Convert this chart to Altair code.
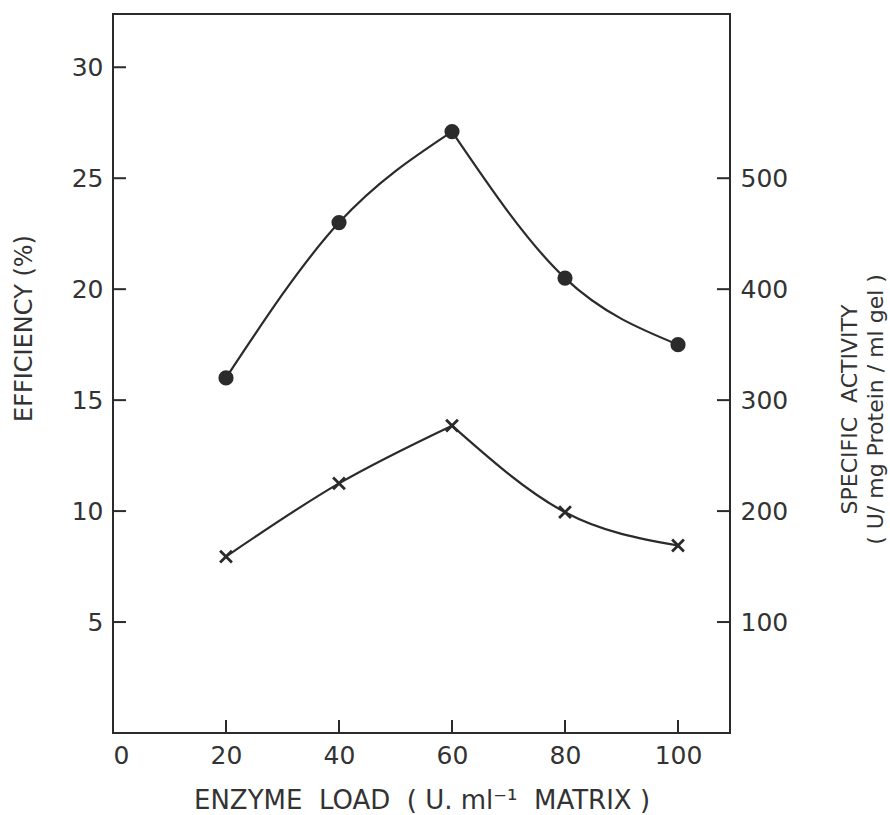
import altair as alt
import pandas as pd

# ---- data ----
loads = [20, 40, 60, 80, 100]
efficiency = [16.0, 23.0, 27.1, 20.5, 17.5]          # filled circles, left axis (%)
specific_activity = [159, 225, 277, 199, 169]         # crosses, right axis
x_tick_values = [0, 20, 40, 60, 80, 100]
x_inner_ticks = [20, 40, 60, 80, 100]
left_tick_values = [5, 10, 15, 20, 25, 30]
right_tick_values = [100, 200, 300, 400, 500]

W, H = 617, 719
INK = "#2b2b2b"
FONT = "DejaVu Sans"
NB = "\u00a0"

x_scale = alt.Scale(domain=[0, 109.2], nice=False, zero=False)
left_scale = alt.Scale(domain=[0, 32.4], nice=False, zero=False)
right_scale = alt.Scale(domain=[0, 648], nice=False, zero=False)


def split_at_peak(values):
    peak = loads[values.index(max(values))]
    rows = []
    for x, v in zip(loads, values):
        if x <= peak:
            rows.append({"load": x, "value": v, "seg": "rise"})
        if x >= peak:
            rows.append({"load": x, "value": v, "seg": "fall"})
    return pd.DataFrame(rows)


eff_df = pd.DataFrame({"load": loads, "value": efficiency})
sa_df = pd.DataFrame({"load": loads, "value": specific_activity})
eff_seg = split_at_peak(efficiency)
sa_seg = split_at_peak(specific_activity)

x_axis = alt.Axis(
    values=x_tick_values, ticks=False, domain=False, grid=False,
    labelFont=FONT, labelFontSize=25, labelColor="#333", labelPadding=10,
    title=f"ENZYME{NB}{NB}LOAD{NB}{NB}({NB}U.{NB}ml\u207b\u00b9{NB}{NB}MATRIX{NB})",
    titleFont=FONT, titleFontSize=26, titleFontWeight="normal", titleColor="#333",
    titleY=75, titleBaseline="alphabetic",
)
left_axis = alt.Axis(
    values=left_tick_values, ticks=False, domain=False, grid=False,
    labelFont=FONT, labelFontSize=25, labelColor="#333", labelPadding=10,
    title="EFFICIENCY (%)",
    titleFont=FONT, titleFontSize=24, titleFontWeight="normal", titleColor="#333",
    titleX=-82, titleY=314, titleBaseline="alphabetic", titleAngle=270,
)
right_axis = alt.Axis(
    orient="right",
    values=right_tick_values, ticks=False, domain=False, grid=False,
    labelFont=FONT, labelFontSize=25, labelColor="#333", labelPadding=10,
    title=[f"SPECIFIC{NB}{NB}ACTIVITY", f"({NB}U/{NB}mg{NB}Protein{NB}/{NB}ml{NB}gel{NB})"],
    titleFont=FONT, titleFontSize=22, titleFontWeight="normal", titleColor="#333",
    titleLineHeight=26,
    titleX=126, titleY=395, titleBaseline="alphabetic", titleAngle=270,
    titleAlign="center",
)

X = alt.X("load:Q", scale=x_scale, axis=x_axis)

eff_line = alt.Chart(eff_seg).mark_line(
    interpolate="monotone", color=INK, strokeWidth=2.2
).encode(
    x=X,
    y=alt.Y("value:Q", scale=left_scale, axis=None),
    detail="seg:N",
)
eff_pts = alt.Chart(eff_df).mark_point(
    shape="circle", filled=True, size=230, color=INK, opacity=1
).encode(
    x=X,
    y=alt.Y("value:Q", scale=left_scale, axis=left_axis),
)

sa_line = alt.Chart(sa_seg).mark_line(
    interpolate="monotone", color=INK, strokeWidth=2.2
).encode(
    x=X,
    y=alt.Y("value:Q", scale=right_scale, axis=None),
    detail="seg:N",
)
sa_pts = alt.Chart(sa_df).mark_point(
    shape="M-1,-1L1,1M-1,1L1,-1", filled=False, size=140, color=INK,
    strokeWidth=2.8, opacity=1
).encode(
    x=X,
    y=alt.Y("value:Q", scale=right_scale, axis=right_axis),
)

# inward tick marks
TL = 13
xt = alt.Chart(pd.DataFrame({"load": x_inner_ticks})).mark_rule(
    color=INK, strokeWidth=2
).encode(
    x=X,
    y=alt.value(H), y2=alt.value(H - TL),
)
lt = alt.Chart(pd.DataFrame({"v": left_tick_values})).mark_rule(
    color=INK, strokeWidth=2
).encode(
    y=alt.Y("v:Q", scale=left_scale, axis=None),
    x=alt.value(0), x2=alt.value(TL),
)
rt = alt.Chart(pd.DataFrame({"v": right_tick_values})).mark_rule(
    color=INK, strokeWidth=2
).encode(
    y=alt.Y("v:Q", scale=right_scale, axis=None),
    x=alt.value(W), x2=alt.value(W - TL),
)

chart = alt.layer(
    eff_line, eff_pts, lt, sa_line, sa_pts, rt, xt
).resolve_scale(
    y="independent"
).properties(
    width=W, height=H,
    autosize=alt.AutoSizeParams(type="none"),
    padding={"left": 113, "top": 14, "right": 160, "bottom": 82},
    background="white",
).configure_view(
    stroke=INK, strokeWidth=2
)

chart.save("out.html", embed_options={"renderer": "svg", "actions": False})
